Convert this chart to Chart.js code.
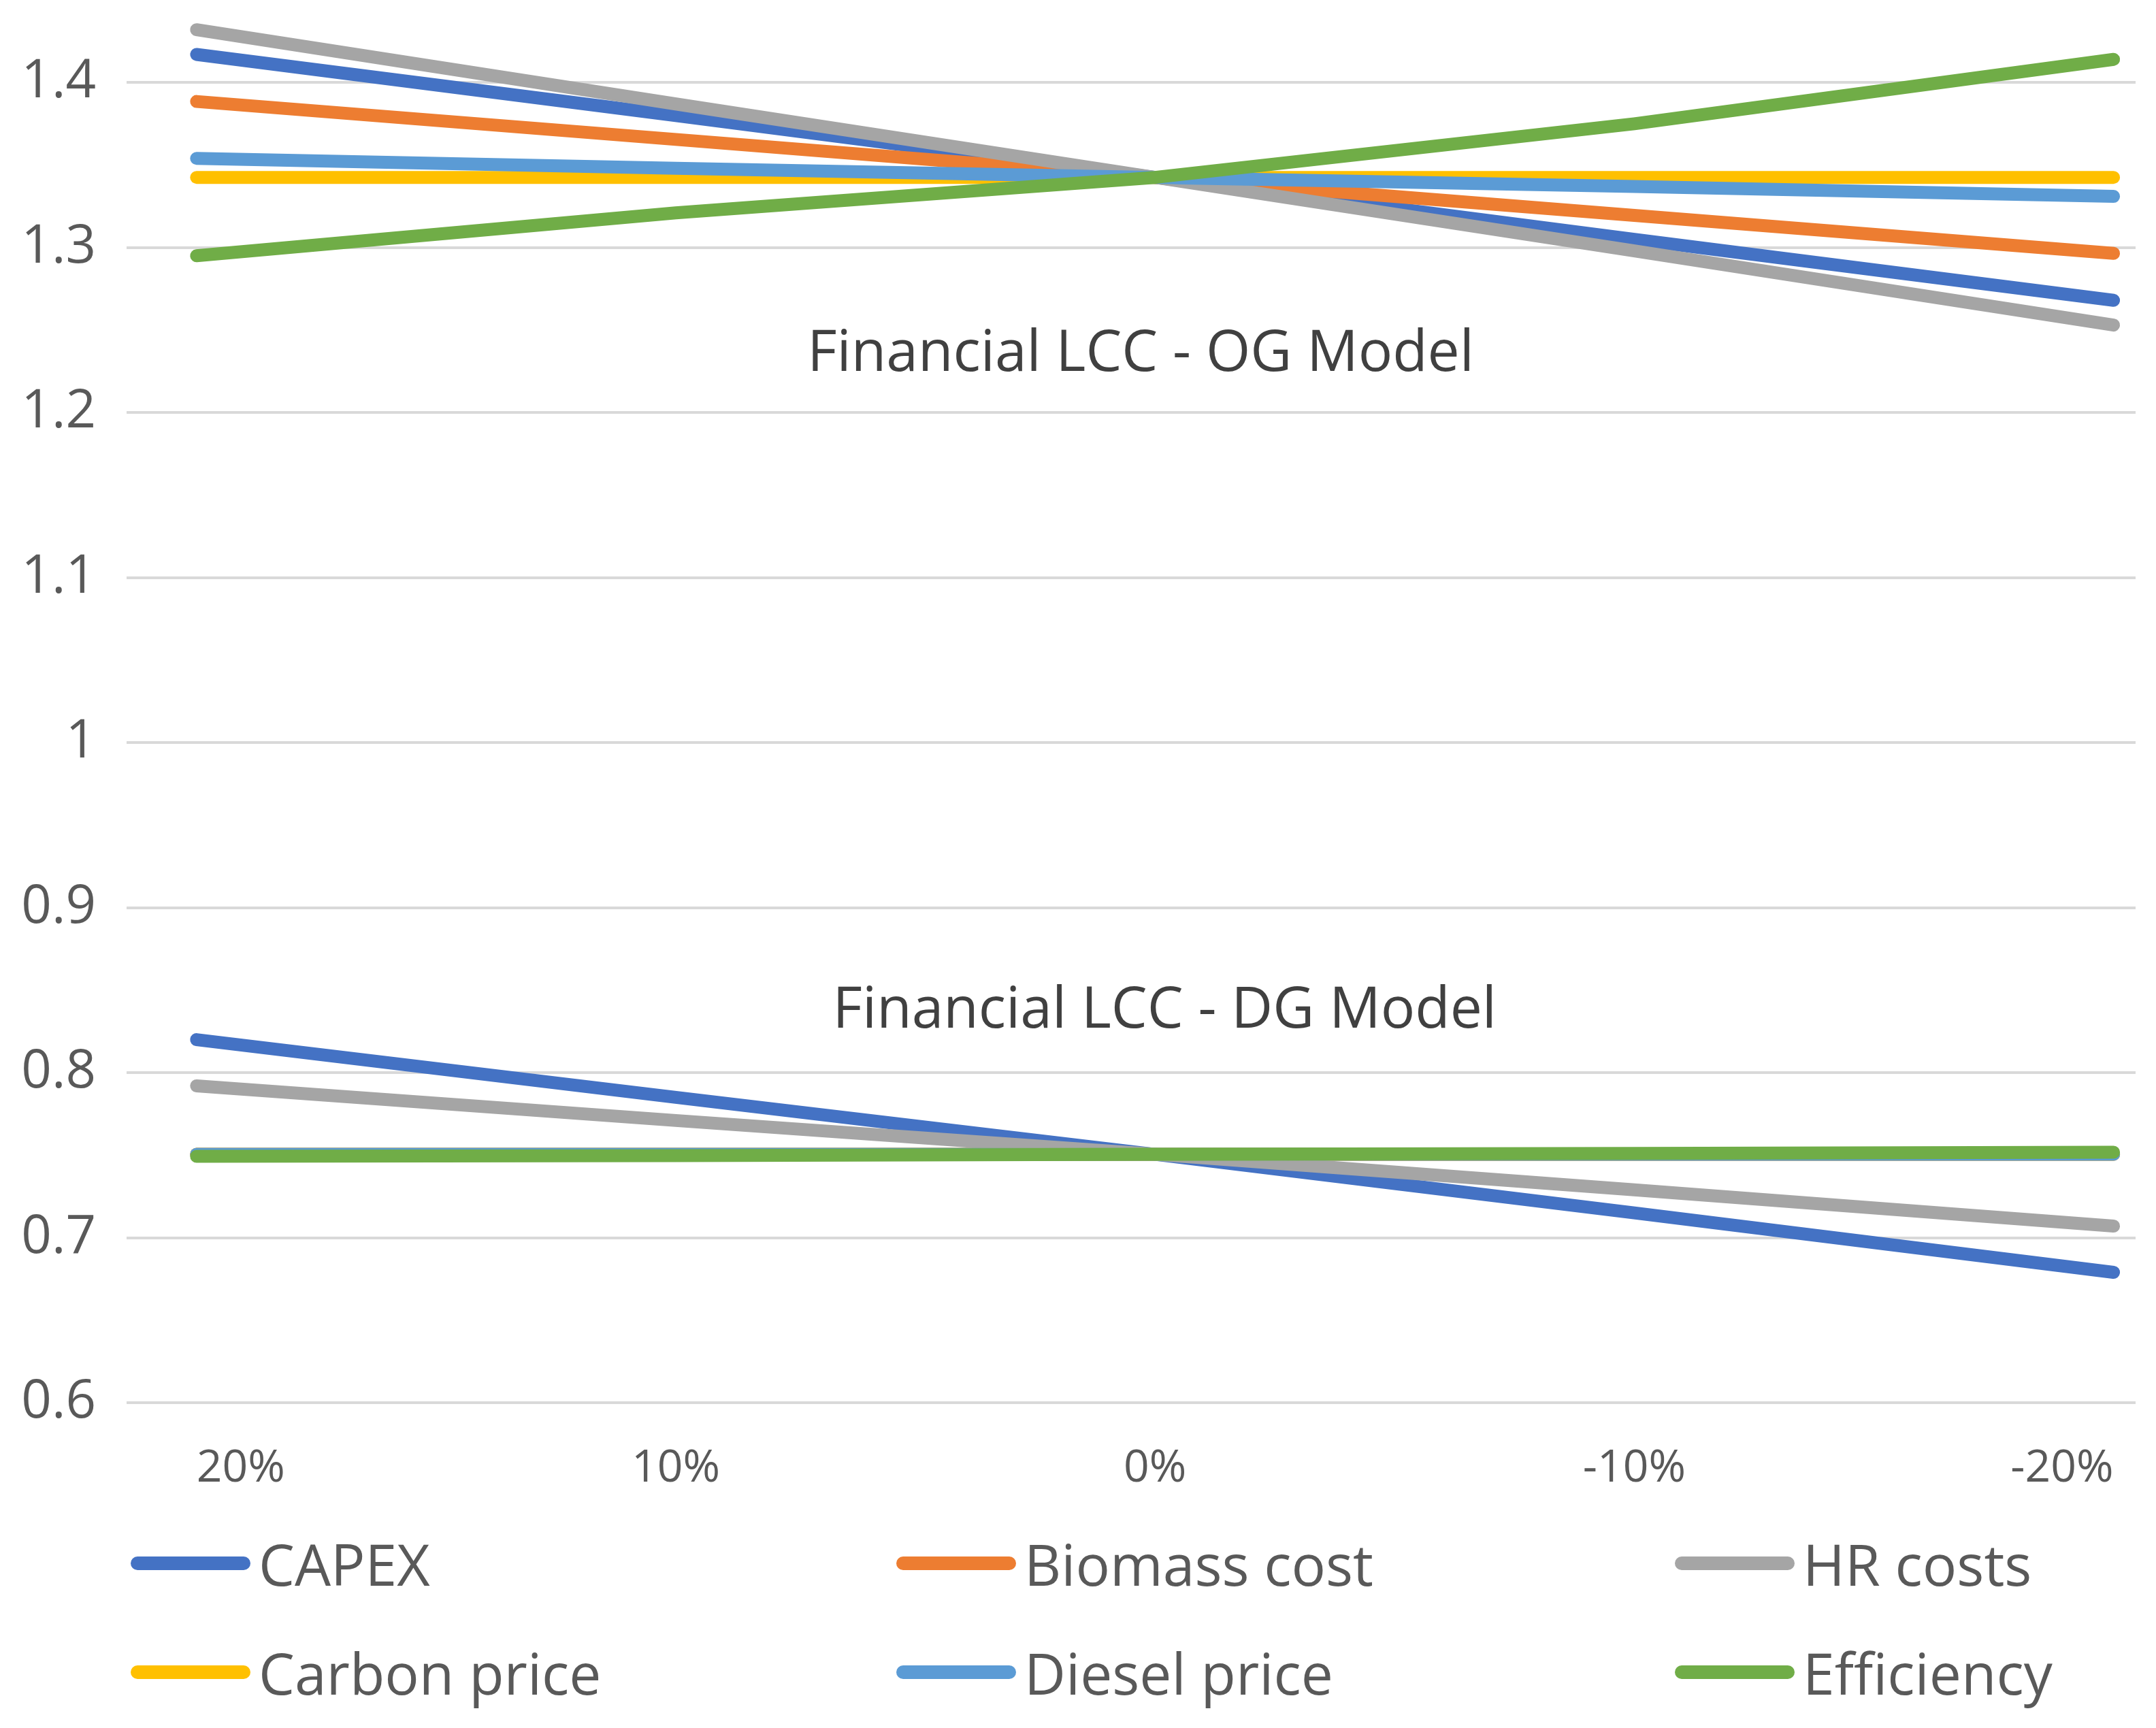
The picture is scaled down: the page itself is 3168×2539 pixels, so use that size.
<!DOCTYPE html>
<html>
<head>
<meta charset="utf-8">
<script src="https://cdn.jsdelivr.net/npm/chart.js@4/dist/chart.umd.min.js"></script>
<style>
    html, body { margin: 0; padding: 0; background: #fff; }
    #wrap { position: relative; width: 3168px; height: 2539px; overflow: hidden; }
    #box { position: absolute; left: 0; top: 0; width: 3168px; height: 2240px; }
    .leg-item { position: absolute; display: flex; align-items: center; height: 110px;
        font-family: 'Open Sans', sans-serif; font-size: 84px; color: #595959; white-space: nowrap; }
    .leg-swatch { width: 176px; height: 20px; border-radius: 10px; margin-right: 12px; }
</style>
</head>
<body>
<div id="wrap">
    <div id="box"><canvas id="mainChart"></canvas></div>
    <div id="legend"></div>
</div>
<script>
// categories (x axis)
const categories = ['20%', '10%', '0%', '-10%', '-20%'];
const seriesNames = ['CAPEX', 'Biomass cost', 'HR costs', 'Carbon price', 'Diesel price', 'Efficiency'];
const seriesColors = ['#4472C4', '#ED7D31', '#A5A5A5', '#FFC000', '#5B9BD5', '#70AD47'];

// Financial LCC - OG Model
const ogCapex      = [1.417, 1.380, 1.3425, 1.305, 1.268];
const ogBiomass    = [1.3885, 1.3655, 1.3425, 1.3195, 1.2965];
const ogHr         = [1.432, 1.387, 1.3425, 1.298, 1.253];
const ogCarbon     = [1.3425, 1.3425, 1.3425, 1.3425, 1.3425];
const ogDiesel     = [1.354, 1.348, 1.3425, 1.337, 1.331];
const ogEfficiency = [1.295, 1.321, 1.3425, 1.375, 1.414];

// Financial LCC - DG Model
const dgCapex      = [0.820, 0.785, 0.7505, 0.715, 0.679];
const dgBiomass    = [0.7505, 0.7505, 0.7505, 0.7505, 0.7505];
const dgHr         = [0.792, 0.771, 0.7505, 0.729, 0.707];
const dgCarbon     = [0.7505, 0.7505, 0.7505, 0.7505, 0.7505];
const dgDiesel     = [0.7505, 0.7505, 0.7505, 0.7505, 0.7505];
const dgEfficiency = [0.7493, 0.7497, 0.7505, 0.751, 0.7518];

const yTicks = [0.6, 0.7, 0.8, 0.9, 1.0, 1.1, 1.2, 1.3, 1.4];

// text boxes inside the plot: label, x (category index), y (value)
const noteLabels = ['Financial LCC - OG Model', 'Financial LCC - DG Model'];
const noteX = [1.97, 2.02];
const noteY = [1.235, 0.837];

const ogSeries = [ogCapex, ogBiomass, ogHr, ogCarbon, ogDiesel, ogEfficiency];
const dgSeries = [dgCapex, dgBiomass, dgHr, dgCarbon, dgDiesel, dgEfficiency];

function makeDataset(values, idx, group) {
    return {
        label: seriesNames[idx],
        group: group,
        data: values.map((v, i) => ({ x: i, y: v })),
        borderColor: seriesColors[idx],
        backgroundColor: seriesColors[idx],
        borderWidth: 19,
        borderCapStyle: 'round',
        borderJoinStyle: 'round',
        pointRadius: 0,
        tension: 0,
        fill: false,
        order: 5 - idx
    };
}

const datasets = [
    ...ogSeries.map((s, i) => makeDataset(s, i, 'OG')),
    ...dgSeries.map((s, i) => makeDataset(s, i, 'DG'))
];

const notesPlugin = {
    id: 'notes',
    afterDatasetsDraw(chart) {
        const { ctx, scales } = chart;
        ctx.save();
        ctx.font = '84px "Open Sans", sans-serif';
        ctx.fillStyle = '#404040';
        ctx.textAlign = 'center';
        ctx.textBaseline = 'middle';
        noteLabels.forEach((t, i) => {
            ctx.fillText(t, scales.x.getPixelForValue(noteX[i]), scales.y.getPixelForValue(noteY[i]));
        });
        ctx.restore();
    }
};

const chart = new Chart(document.getElementById('mainChart'), {
    type: 'line',
    data: { datasets },
    plugins: [notesPlugin],
    options: {
        responsive: true,
        maintainAspectRatio: false,
        devicePixelRatio: 1,
        animation: false,
        layout: { padding: { top: 0, right: 30, left: 0, bottom: 0 } },
        plugins: {
            legend: { display: false },
            tooltip: { enabled: false }
        },
        scales: {
            x: {
                type: 'linear',
                min: -0.146,
                max: 4.046,
                grid: { display: false },
                border: { display: false },
                afterBuildTicks: (scale) => { scale.ticks = categories.map((_, i) => ({ value: i })); },
                afterFit: (scale) => {
                    scale.height = 179;
                    scale.paddingLeft = 0;
                    scale.paddingRight = 0;
                },
                ticks: {
                    color: '#595959',
                    font: { size: 66, family: 'Open Sans' },
                    padding: 50,
                    align: 'inner',
                    maxRotation: 0,
                    autoSkip: false,
                    callback: (v) => categories[v]
                }
            },
            y: {
                min: 0.6,
                max: 1.45,
                grid: { color: '#D9D9D9', lineWidth: 4, drawTicks: false },
                border: { display: false },
                afterBuildTicks: (scale) => { scale.ticks = yTicks.map(v => ({ value: v })); },
                afterFit: (scale) => {
                    scale.width = 186;
                    scale.paddingTop = 0;
                    scale.paddingBottom = 0;
                },
                ticks: {
                    color: '#595959',
                    font: { size: 78, family: 'Open Sans' },
                    padding: 45,
                    callback: (v) => String(Number(v.toFixed(1)))
                }
            }
        }
    }
});

// legend in three columns, two rows (like the original)
const legCols = [192, 1317, 2461];
const legRows = [2297, 2457];
const legend = document.getElementById('legend');
chart.data.datasets.filter(d => d.group === 'OG').forEach((d, i) => {
    const item = document.createElement('div');
    item.className = 'leg-item';
    item.style.left = legCols[i % 3] + 'px';
    item.style.top = (legRows[Math.floor(i / 3)] - 55) + 'px';
    const sw = document.createElement('span');
    sw.className = 'leg-swatch';
    sw.style.background = d.borderColor;
    item.appendChild(sw);
    item.appendChild(document.createTextNode(d.label));
    legend.appendChild(item);
});
</script>
</body>
</html>
